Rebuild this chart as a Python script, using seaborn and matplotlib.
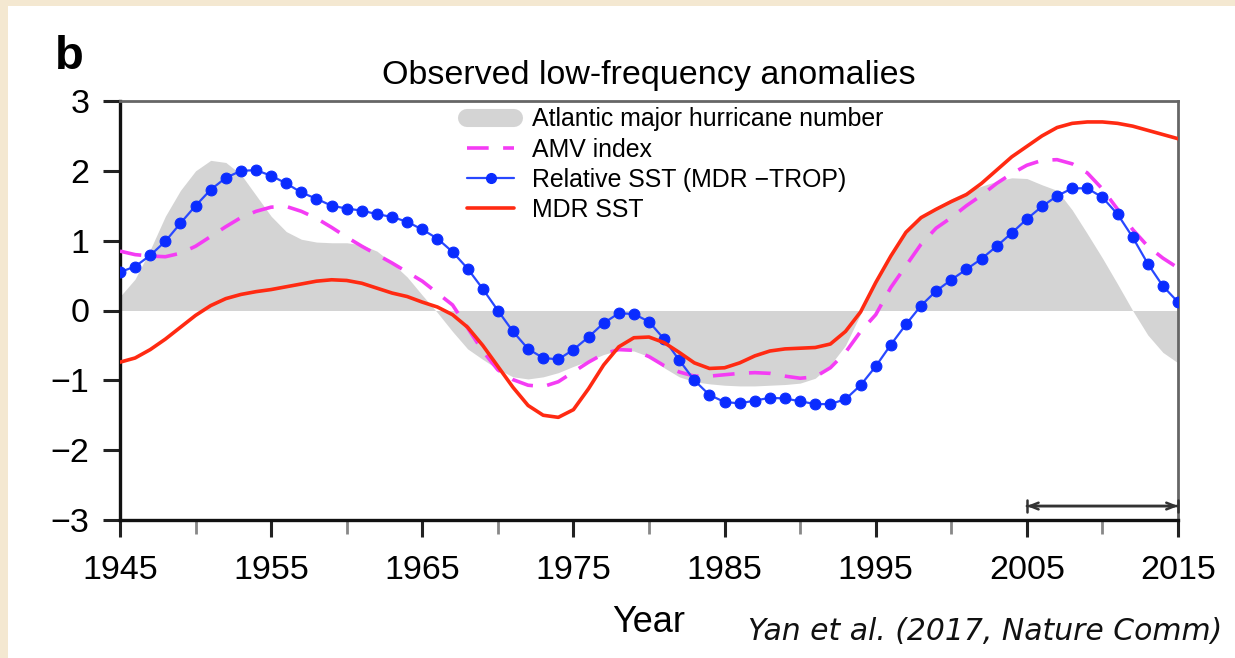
import numpy as np
import pandas as pd
import matplotlib
matplotlib.use("Agg")
import matplotlib.pyplot as plt
from matplotlib.lines import Line2D
from matplotlib.patches import Rectangle
import seaborn as sns

# ---------------- data ----------------
years = list(range(1945, 2016))

hurricane = [0.20, 0.45, 0.87, 1.35, 1.72, 2.00, 2.15, 2.12, 1.95, 1.65,
             1.35, 1.13, 1.02, 0.98, 0.97, 0.97, 0.94, 0.85, 0.68, 0.48,
             0.22, -0.03, -0.30, -0.55, -0.70, -0.84, -0.95, -0.98, -0.95, -0.89,
             -0.80, -0.72, -0.63, -0.57, -0.58, -0.66, -0.82, -0.95, -1.02, -1.05,
             -1.07, -1.08, -1.08, -1.07, -1.06, -1.04, -0.97, -0.78, -0.50, -0.05,
             0.40, 0.82, 1.13, 1.33, 1.48, 1.60, 1.70, 1.78, 1.85, 1.90,
             1.89, 1.80, 1.72, 1.44, 1.10, 0.75, 0.38, 0.00, -0.35, -0.60,
             -0.75]

amv = [0.85, 0.80, 0.78, 0.77, 0.82, 0.92, 1.06, 1.20, 1.33, 1.42,
       1.48, 1.49, 1.42, 1.32, 1.19, 1.05, 0.92, 0.80, 0.68, 0.55,
       0.42, 0.25, 0.08, -0.25, -0.58, -0.85, -0.99, -1.07, -1.09, -1.02,
       -0.88, -0.74, -0.62, -0.56, -0.57, -0.66, -0.79, -0.88, -0.94, -0.94,
       -0.92, -0.90, -0.89, -0.90, -0.94, -0.97, -0.95, -0.82, -0.60, -0.30,
       -0.06, 0.33, 0.64, 0.95, 1.18, 1.33, 1.50, 1.65, 1.82, 1.96,
       2.08, 2.15, 2.16, 2.10, 1.97, 1.74, 1.45, 1.16, 0.92, 0.75,
       0.61]

rel_sst = [0.55, 0.63, 0.79, 0.99, 1.25, 1.50, 1.73, 1.90, 2.00, 2.01,
           1.93, 1.82, 1.69, 1.60, 1.50, 1.46, 1.43, 1.38, 1.34, 1.27,
           1.16, 1.03, 0.84, 0.60, 0.31, 0.00, -0.30, -0.55, -0.68, -0.70,
           -0.56, -0.38, -0.18, -0.04, -0.05, -0.16, -0.41, -0.71, -1.00, -1.21,
           -1.31, -1.33, -1.29, -1.25, -1.26, -1.30, -1.34, -1.34, -1.27, -1.07,
           -0.80, -0.49, -0.20, 0.07, 0.28, 0.44, 0.59, 0.74, 0.92, 1.11,
           1.31, 1.49, 1.64, 1.75, 1.75, 1.62, 1.38, 1.05, 0.67, 0.35,
           0.12]

mdr_sst = [-0.74, -0.68, -0.56, -0.41, -0.24, -0.07, 0.07, 0.17, 0.23, 0.27,
           0.30, 0.34, 0.38, 0.42, 0.44, 0.43, 0.39, 0.32, 0.25, 0.20,
           0.12, 0.05, -0.06, -0.24, -0.50, -0.80, -1.10, -1.36, -1.50, -1.53,
           -1.42, -1.12, -0.78, -0.52, -0.39, -0.38, -0.46, -0.60, -0.75, -0.83,
           -0.82, -0.75, -0.65, -0.58, -0.55, -0.54, -0.53, -0.48, -0.30, -0.02,
           0.40, 0.78, 1.12, 1.33, 1.45, 1.56, 1.66, 1.82, 2.01, 2.20,
           2.35, 2.50, 2.62, 2.68, 2.70, 2.70, 2.68, 2.64, 2.58, 2.52,
           2.46]

labels = ["Atlantic major hurricane number", "AMV index",
          "Relative SST (MDR \u2212TROP)", "MDR SST"]
x_ticks = [1945, 1955, 1965, 1975, 1985, 1995, 2005, 2015]
x_minor = [1950, 1960, 1970, 1980, 1990, 2000, 2010]
y_ticks = [-3, -2, -1, 0, 1, 2, 3]
arrow_span = [2005, 2015]
arrow_level = -2.8

df = pd.DataFrame({"Year": years, "hur": hurricane, "amv": amv,
                   "rel": rel_sst, "mdr": mdr_sst})

# ---------------- style ----------------
sns.set_theme(style="white")
plt.rcParams["font.family"] = ["Liberation Sans", "DejaVu Sans"]
plt.rcParams["text.color"] = "black"
plt.rcParams["axes.labelcolor"] = "black"
plt.rcParams["xtick.color"] = "black"
plt.rcParams["ytick.color"] = "black"

fig = plt.figure(figsize=(12.35, 6.58), dpi=100, facecolor="#f4e8d1")
fig.patches.append(Rectangle((8 / 1235, 0), 1 - 8 / 1235, 1 - 6 / 658,
                             transform=fig.transFigure, facecolor="white",
                             edgecolor="none", zorder=-10))
ax = fig.add_axes([120 / 1235, 1 - 520 / 658, (1178 - 120) / 1235, (520 - 101) / 658])
ax.set_zorder(2)
ax.set_facecolor("white")

GREY = "#d4d4d4"
MAG = "#f43cf4"
BLUE = "#0a2cff"
LBLUE = "#2848ff"
RED = "#ff2a12"

ax.fill_between(df["Year"], df["hur"], 0, color=GREY, lw=0, zorder=1)
sns.lineplot(data=df, x="Year", y="amv", ax=ax, color=MAG, lw=2.6,
             linestyle=(0, (6, 4)), zorder=3)
sns.lineplot(data=df, x="Year", y="rel", ax=ax, color=LBLUE, lw=1.6,
             marker="o", markersize=7.8, markerfacecolor=BLUE,
             markeredgecolor=BLUE, zorder=4)
sns.lineplot(data=df, x="Year", y="mdr", ax=ax, color=RED, lw=2.6, zorder=5)

ax.set_xlim(years[0], years[-1])
ax.set_ylim(-3, 3)
ax.set_xticks(x_ticks)
ax.set_xticks(x_minor, minor=True)
ax.set_yticks(y_ticks)
ax.set_yticklabels([("\u2212%d" % -v) if v < 0 else "%d" % v for v in y_ticks])

ax.tick_params(axis="both", which="major", direction="out", length=12, width=2.2,
               color="#222222", labelcolor="black", labelsize=24.5,
               bottom=True, left=True)
ax.tick_params(axis="x", which="major", pad=13)
ax.tick_params(axis="y", which="major", pad=10)
ax.tick_params(axis="x", which="minor", direction="out", length=10, width=2,
               color="#888888", bottom=True)
for s in ["left", "bottom"]:
    ax.spines[s].set_color("#111111")
    ax.spines[s].set_linewidth(2.4)
for s in ["top", "right"]:
    ax.spines[s].set_color("#666666")
    ax.spines[s].set_linewidth(2.0)

ax.set_xlabel("Year", fontsize=26, labelpad=14, color="black")
ax.set_ylabel("")
ax.set_title("Observed low-frequency anomalies", fontsize=24.5, pad=12, color="black")

# double-headed span arrow
ax.annotate("", xy=(arrow_span[1], arrow_level), xytext=(arrow_span[0], arrow_level),
            arrowprops=dict(arrowstyle="|-|,widthA=0.35,widthB=0.35", color="#333333",
                            lw=1.8, shrinkA=0, shrinkB=0))
ax.annotate("", xy=(arrow_span[1], arrow_level), xytext=(arrow_span[0], arrow_level),
            arrowprops=dict(arrowstyle="<->,head_length=0.5,head_width=0.2",
                            color="#333333", lw=1.8, shrinkA=0, shrinkB=0))

# legend
handles = [
    Line2D([0], [0], color=GREY, lw=13, solid_capstyle="round"),
    Line2D([0], [0], color=MAG, lw=2.6, linestyle=(0, (6, 4))),
    Line2D([0], [0], color=LBLUE, lw=1.6, marker="o", markersize=7,
           markerfacecolor=BLUE, markeredgecolor=BLUE),
    Line2D([0], [0], color=RED, lw=2.6),
]
leg = ax.legend(handles, labels, loc="upper left", bbox_to_anchor=(0.328, 0.985),
                frameon=False, fontsize=17.9, handlelength=1.9, handletextpad=0.7,
                labelspacing=0.25, borderpad=0, borderaxespad=0, numpoints=1)
for t in leg.get_texts():
    t.set_color("black")

fig.text(55 / 1235, 1 - 69 / 658, "b", fontsize=34, fontweight="bold",
         ha="left", va="baseline", color="black")
fig.text(1222 / 1235, 1 - 640 / 658, "Yan et al. (2017, Nature Comm)",
         fontsize=21.5, style="italic", family=["DejaVu Sans"],
         ha="right", va="baseline", color="#111111")

fig.savefig("out.png", dpi=100, facecolor=fig.get_facecolor())
